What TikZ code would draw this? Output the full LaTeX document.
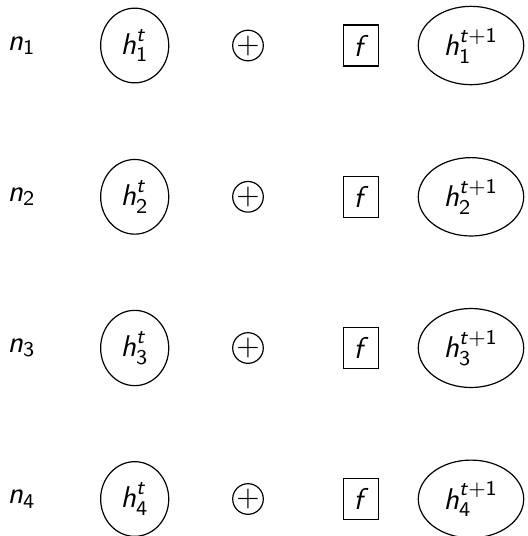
\documentclass[tikz,border=0pt]{standalone}
\usepackage{amsmath}
\usetikzlibrary{shapes.geometric}
% sans-serif italic letters in formulas
\newcommand\sv[1]{\textsf{\textit{#1}}}
\tikzset{
  lbl/.style={inner sep=0pt},
  state/.style={ellipse, draw, line width=0.4pt},
  summ/.style={circle, draw, line width=0.4pt, inner sep=0pt},
  fbox/.style={rectangle, draw, line width=0.4pt},
}
\begin{document}
\begin{tikzpicture}[x=0.33333pt, y=-0.33333pt]
  \useasboundingbox (0,0) rectangle (528,536);
  \foreach \i/\y in {1/45.5, 2/196.8, 3/348, 4/499} {
    \node[lbl]   (n\i)  at (21.7,\y)  {$\sv{n}_{\textsf{\i}}$};
    \node[state] (h\i)  at (134.7,\y) {$\sv{h}^{\sv{t}}_{\textsf{\i}}$};
    \node[summ]  (p\i)  at (248,\y)   {\textsf{+}};
    \node[fbox]  (f\i)  at (361,\y)   {$\sv{f}$};
    \node[state] (hn\i) at (471,\y)   {$\sv{h}^{\sv{t}\textsf{+1}}_{\textsf{\i}}$};
  }
\end{tikzpicture}
\end{document}
